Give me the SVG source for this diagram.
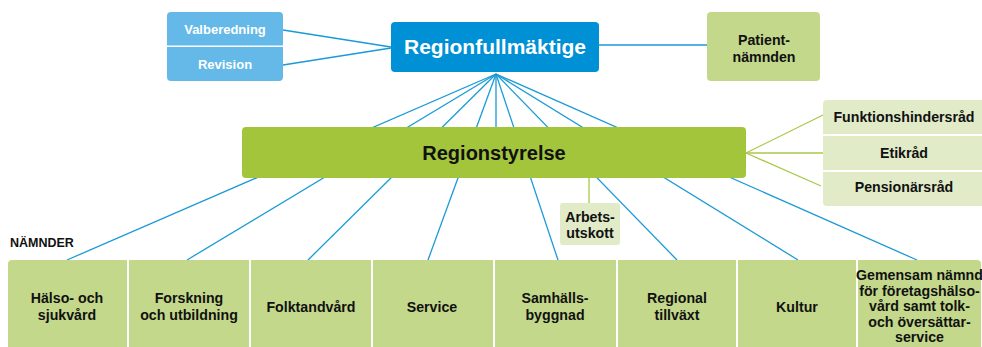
<svg xmlns="http://www.w3.org/2000/svg" width="982" height="347" viewBox="0 0 982 347">
<style>
  text { font-family: "Liberation Sans", Arial, sans-serif; font-weight: bold; text-anchor: middle; }
  .blue { stroke: #1a9ad6; stroke-width: 1.3; fill: none; }
  .grn { stroke: #a9c94a; stroke-width: 1.3; fill: none; }
  .lb { fill: #64b9e8; }
  .db { fill: #0090d5; }
  .mg { fill: #c3d88a; }
  .dg { fill: #a3c53c; }
  .pg { fill: #e1ebc8; }
  .wt { fill: #ffffff; font-size: 13px; }
  .bk { fill: #111111; font-size: 14.2px; }
</style>
<rect width="982" height="347" fill="#ffffff"/>
<g id="connectors">
  <line class="blue" x1="283" y1="30" x2="391" y2="47"/>
  <line class="blue" x1="283" y1="65" x2="391" y2="48"/>
  <line class="blue" x1="599" y1="45" x2="737" y2="45"/>
  <line class="blue" x1="496" y1="74" x2="67" y2="260"/>
  <line class="blue" x1="496" y1="74" x2="187" y2="260"/>
  <line class="blue" x1="496" y1="74" x2="308" y2="260"/>
  <line class="blue" x1="496" y1="74" x2="428" y2="260"/>
  <line class="blue" x1="496" y1="74" x2="496" y2="128"/>
  <line class="blue" x1="496" y1="74" x2="558" y2="260"/>
  <line class="blue" x1="496" y1="74" x2="677" y2="260"/>
  <line class="blue" x1="496" y1="74" x2="798" y2="260"/>
  <line class="blue" x1="496" y1="74" x2="917" y2="260"/>
  <line class="grn" x1="589" y1="178" x2="589" y2="204"/>
  <line class="grn" x1="746" y1="153" x2="823" y2="115"/>
  <line class="grn" x1="746" y1="153" x2="823" y2="153"/>
  <line class="grn" x1="746" y1="153" x2="821" y2="186"/>
</g>
<g id="valberedning">
  <path class="lb" d="M167,16 a4,4 0 0 1 4,-4 H279 a4,4 0 0 1 4,4 V45.5 H167 Z"/>
  <text class="wt" x="225" y="34">Valberedning</text>
</g>
<g id="revision">
  <path class="lb" d="M167,47 H283 V77 a4,4 0 0 1 -4,4 H171 a4,4 0 0 1 -4,-4 Z"/>
  <text class="wt" x="225" y="69">Revision</text>
</g>
<g id="regionfullmaktige">
  <rect class="db" x="391" y="22" width="208" height="50" rx="4"/>
  <text x="495" y="54" fill="#ffffff" font-size="21">Regionfullmäktige</text>
</g>
<g id="patientnamnden">
  <rect class="mg" x="707" y="12" width="113" height="69" rx="4"/>
  <text class="bk" x="764" y="45">Patient-</text>
  <text class="bk" x="764" y="62">nämnden</text>
</g>
<g id="regionstyrelse">
  <rect class="dg" x="242" y="127" width="504" height="51" rx="4"/>
  <text x="494" y="160" fill="#111111" font-size="20">Regionstyrelse</text>
</g>
<g id="arbetsutskott">
  <rect class="pg" x="560" y="203" width="60" height="42" rx="3"/>
  <text class="bk" x="590" y="222">Arbets-</text>
  <text class="bk" x="590" y="238">utskott</text>
</g>
<g id="funktionshindersrad">
  <path class="pg" d="M823,104 a4,4 0 0 1 4,-4 H982 V134 H823 Z"/>
  <text class="bk" x="904" y="122">Funktionshindersråd</text>
</g>
<g id="etikrad">
  <rect class="pg" x="823" y="136" width="159" height="34"/>
  <text class="bk" x="904" y="158">Etikråd</text>
</g>
<g id="pensionarsrad">
  <path class="pg" d="M823,172 H982 V206 H827 a4,4 0 0 1 -4,-4 Z"/>
  <text class="bk" x="904" y="192">Pensionärsråd</text>
</g>
<text x="10" y="247" fill="#111111" font-size="12.5" style="text-anchor:start">NÄMNDER</text>
<g id="halso">
  <path class="mg" d="M8,264 a4,4 0 0 1 4,-4 H127 V347 H8 Z"/>
  <text class="bk" x="67" y="303">Hälso- och</text>
  <text class="bk" x="67" y="320">sjukvård</text>
</g>
<g id="forskning">
  <rect class="mg" x="129" y="260" width="120" height="87"/>
  <text class="bk" x="189" y="303">Forskning</text>
  <text class="bk" x="189" y="320">och utbildning</text>
</g>
<g id="folktandvard">
  <rect class="mg" x="251" y="260" width="120" height="87"/>
  <text class="bk" x="311" y="312">Folktandvård</text>
</g>
<g id="service">
  <rect class="mg" x="373" y="260" width="120" height="87"/>
  <text class="bk" x="432" y="312">Service</text>
</g>
<g id="samhallsbyggnad">
  <rect class="mg" x="495" y="260" width="121" height="87"/>
  <text class="bk" x="555" y="303">Samhälls-</text>
  <text class="bk" x="555" y="320">byggnad</text>
</g>
<g id="regionaltillvaxt">
  <rect class="mg" x="618" y="260" width="118" height="87"/>
  <text class="bk" x="677" y="303">Regional</text>
  <text class="bk" x="677" y="320">tillväxt</text>
</g>
<g id="kultur">
  <rect class="mg" x="738" y="260" width="118" height="87"/>
  <text class="bk" x="797" y="312">Kultur</text>
</g>
<g id="gemensam">
  <path class="mg" d="M858,260 H977 a4,4 0 0 1 4,4 V347 H858 Z"/>
  <text class="bk" x="919.5" y="280" font-size="12.8">Gemensam nämnd</text>
  <text class="bk" x="919.5" y="295.5" font-size="12.8">för företagshälso-</text>
  <text class="bk" x="919.5" y="311" font-size="12.8">vård samt tolk-</text>
  <text class="bk" x="919.5" y="326.5" font-size="12.8">och översättar-</text>
  <text class="bk" x="919.5" y="342" font-size="12.8">service</text>
</g>
</svg>
